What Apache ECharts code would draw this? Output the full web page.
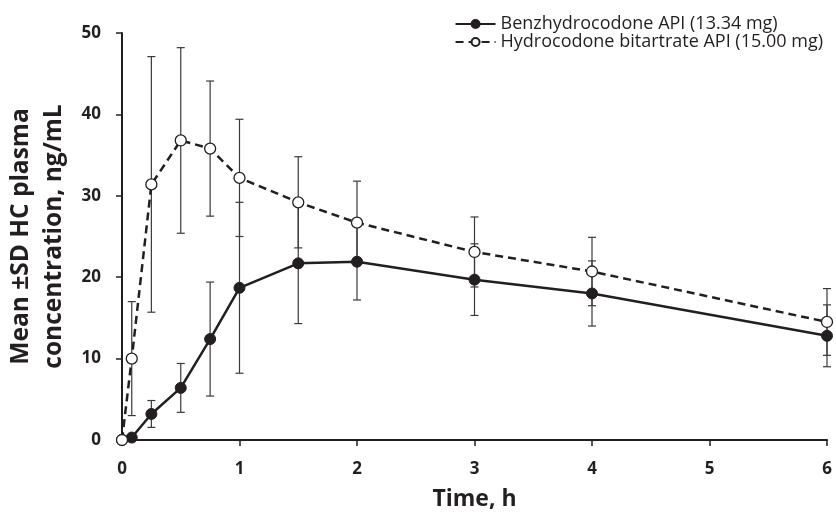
<!DOCTYPE html>
<html>
<head>
<meta charset="utf-8">
<script src="https://cdn.jsdelivr.net/npm/echarts@6/dist/echarts.min.js"></script>
<style>
  html, body { margin: 0; padding: 0; background: #fff; }
  #chart { width: 836px; height: 519px; }
</style>
</head>
<body>
<div id="chart"></div>
<script>
// time points (h)
const times = [0, 0.083, 0.25, 0.5, 0.75, 1, 1.5, 2, 3, 4, 6];
// Benzhydrocodone API (13.34 mg)
const benzMean = [0, 0.3, 3.2, 6.4, 12.4, 18.7, 21.7, 21.9, 19.7, 18.0, 12.8];
const benzSD = [0, 0, 1.65, 3.0, 7.0, 10.5, 7.4, 4.7, 4.4, 4.0, 3.8];
// Hydrocodone bitartrate API (15.00 mg)
const hydroMean = [0, 10.0, 31.4, 36.8, 35.8, 32.2, 29.2, 26.7, 23.1, 20.7, 14.5];
const hydroSD = [0, 7.0, 15.7, 11.4, 8.3, 7.2, 5.6, 5.1, 4.3, 4.2, 4.1];

const benzName = 'Benzhydrocodone API (13.34 mg)';
const hydroName = 'Hydrocodone bitartrate API (15.00 mg)';
const ink = '#231f20';
const font = '"Open Sans", "Liberation Sans", sans-serif';

function pairs(mean) {
  return times.map((t, i) => [t, mean[i]]);
}
function errRows(mean, sd) {
  const rows = [];
  times.forEach((t, i) => {
    if (sd[i] > 0) rows.push([t, mean[i] - sd[i], mean[i] + sd[i]]);
  });
  return rows;
}

function renderErr(params, api) {
  const lo = api.coord([api.value(0), api.value(1)]);
  const hi = api.coord([api.value(0), api.value(2)]);
  const w = 4;
  const style = { stroke: '#3a3a3a', lineWidth: 1.2 };
  return {
    type: 'group',
    children: [
      { type: 'line', shape: { x1: lo[0], y1: lo[1], x2: hi[0], y2: hi[1] }, style: style },
      { type: 'line', shape: { x1: lo[0] - w, y1: lo[1], x2: lo[0] + w, y2: lo[1] }, style: style },
      { type: 'line', shape: { x1: hi[0] - w, y1: hi[1], x2: hi[0] + w, y2: hi[1] }, style: style }
    ]
  };
}

const chart = echarts.init(document.getElementById('chart'));
chart.setOption({
  animation: false,
  backgroundColor: '#fff',
  textStyle: { fontFamily: font },
  grid: { left: 122, right: 9, top: 33, bottom: 79, containLabel: false, outerBoundsMode: 'none' },
  legend: {
    orient: 'vertical',
    right: 8,
    top: 10,
    itemWidth: 40,
    itemHeight: 10,
    itemGap: 0,
    textStyle: { fontFamily: font, fontSize: 18, color: ink },
    data: [benzName, hydroName]
  },
  xAxis: {
    type: 'value',
    min: 0,
    max: 6,
    interval: 1,
    name: 'Time, h',
    nameLocation: 'middle',
    nameGap: 48,
    nameTextStyle: { fontFamily: font, fontSize: 23, fontWeight: 'bold', color: ink },
    axisLine: { lineStyle: { color: ink, width: 2 } },
    axisTick: { inside: false, length: 6, lineStyle: { color: ink, width: 1.5 } },
    axisLabel: { fontFamily: font, fontSize: 17, fontWeight: 'bold', color: ink, margin: 21 },
    splitLine: { show: false }
  },
  yAxis: {
    type: 'value',
    min: 0,
    max: 50,
    interval: 10,
    name: 'Mean \u00b1SD HC plasma\nconcentration, ng/mL',
    nameLocation: 'middle',
    nameGap: 48,
    nameTextStyle: { fontFamily: font, fontSize: 24.5, fontWeight: 'bold', color: ink, lineHeight: 33 },
    axisLine: { show: true, lineStyle: { color: ink, width: 2 } },
    axisTick: { show: true, inside: false, length: 6, lineStyle: { color: ink, width: 1.5 } },
    axisLabel: { fontFamily: font, fontSize: 17, fontWeight: 'bold', color: ink, margin: 21 },
    splitLine: { show: false }
  },
  series: [
    {
      type: 'custom',
      name: 'benzErr',
      renderItem: renderErr,
      data: errRows(benzMean, benzSD),
      encode: { x: 0, y: [1, 2] },
      z: 1,
      silent: true
    },
    {
      type: 'custom',
      name: 'hydroErr',
      renderItem: renderErr,
      data: errRows(hydroMean, hydroSD),
      encode: { x: 0, y: [1, 2] },
      z: 1,
      silent: true
    },
    {
      type: 'line',
      name: benzName,
      data: pairs(benzMean),
      symbol: 'circle',
      symbolSize: 11,
      lineStyle: { color: ink, width: 2.5 },
      itemStyle: { color: ink, borderColor: ink, borderWidth: 1 },
      z: 3
    },
    {
      type: 'line',
      name: hydroName,
      data: pairs(hydroMean),
      symbol: 'circle',
      symbolSize: 11,
      lineStyle: { color: ink, width: 2.5, type: [8, 5] },
      itemStyle: { color: '#fff', borderColor: ink, borderWidth: 1.3 },
      z: 4
    }
  ]
});
</script>
</body>
</html>
